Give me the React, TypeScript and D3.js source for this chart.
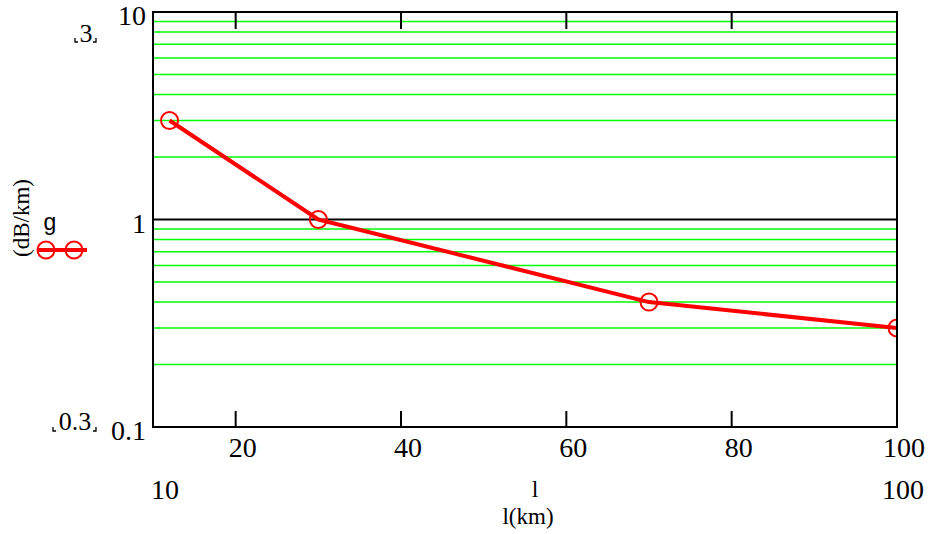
import React from "react";
import * as d3 from "d3";

// Attenuation versus span length
const lengthKm = [12, 30, 70, 100];
const attenuation = [3, 1, 0.4, 0.3];
const xTicks = [20, 40, 60, 80, 100];
const yTickLabels = [10, 1, 0.1];

const W = 930;
const H = 534;
const plot = { left: 153, right: 897, top: 12, bottom: 427 };
const SERIF = "'Liberation Serif', 'Times New Roman', serif";
const SANS = "'Liberation Sans', Arial, sans-serif";
const RED = "#ff0000";
const GREEN = "#00ff00";

export default function App() {
  const x = d3.scaleLinear().domain([10, 100]).range([plot.left, plot.right]);
  const y = d3.scaleLog().domain([0.1, 10]).range([plot.bottom, plot.top]);

  // minor log grid: 2..9 within each decade
  const minor: number[] = [];
  [0.1, 1].forEach((d) => {
    for (let k = 2; k <= 9; k++) minor.push(d * k);
  });

  const points = lengthKm.map((l, i) => [l, attenuation[i]] as [number, number]);
  const line = d3
    .line<[number, number]>()
    .x((d) => x(d[0]))
    .y((d) => y(d[1]));

  const placeholder = (x0: number, x1: number, yb: number) => (
    <g stroke="#000" strokeWidth={1.3} fill="none">
      <path d={`M${x0},${yb - 4}V${yb}H${x0 + 3}`} />
      <path d={`M${x1},${yb - 4}V${yb}H${x1 - 3}`} />
    </g>
  );

  return (
    <svg
      width={W}
      height={H}
      style={{ position: "absolute", left: 0, top: 0, background: "#fff" }}
      fontFamily={SERIF}
    >
      <defs>
        <clipPath id="plotClip">
          <rect
            x={plot.left}
            y={plot.top}
            width={plot.right - plot.left}
            height={plot.bottom - plot.top}
          />
        </clipPath>
      </defs>

      {/* minor grid */}
      {minor.map((v) => (
        <line
          key={v}
          x1={plot.left}
          x2={plot.right}
          y1={y(v)}
          y2={y(v)}
          stroke={GREEN}
          strokeWidth={1.5}
        />
      ))}
      {/* major grid at 1 */}
      <line x1={plot.left} x2={plot.right} y1={y(1)} y2={y(1)} stroke="#000" strokeWidth={2} />

      {/* data */}
      <g clipPath="url(#plotClip)">
        <path d={line(points) || ""} fill="none" stroke={RED} strokeWidth={4} strokeLinejoin="round" />
        {points.map((p, i) => (
          <circle key={i} cx={x(p[0])} cy={y(p[1])} r={8.5} fill="none" stroke={RED} strokeWidth={2} />
        ))}
      </g>

      {/* frame */}
      <rect
        x={plot.left}
        y={plot.top}
        width={plot.right - plot.left}
        height={plot.bottom - plot.top}
        fill="none"
        stroke="#000"
        strokeWidth={2}
      />
      {xTicks.slice(0, -1).map((t) => (
        <g key={t} stroke="#000" strokeWidth={2}>
          <line x1={x(t)} x2={x(t)} y1={plot.top} y2={plot.top + 17} />
          <line x1={x(t)} x2={x(t)} y1={plot.bottom} y2={plot.bottom - 16} />
        </g>
      ))}

      {/* x tick labels */}
      {xTicks.map((t) => (
        <text key={t} x={x(t) + 7} y={plot.bottom + 30} fontSize={28} textAnchor="middle">
          {t}
        </text>
      ))}
      <text x={165} y={499} fontSize={28} textAnchor="middle">10</text>
      <text x={903} y={499} fontSize={28} textAnchor="middle">100</text>
      <text x={535} y={497} fontSize={24} textAnchor="middle">l</text>
      <text x={528} y={524} fontSize={23} textAnchor="middle">l(km)</text>

      {/* y tick labels */}
      {yTickLabels.map((t) => (
        <text key={t} x={146} y={y(t) + 13} fontSize={28} textAnchor="end">
          {t}
        </text>
      ))}

      {/* axis limit placeholders */}
      <text x={86} y={42} fontSize={26} textAnchor="middle">3</text>
      {placeholder(75, 96, 42)}
      <text x={75} y={430} fontSize={26} textAnchor="middle">0.3</text>
      {placeholder(53, 96, 431)}

      {/* y label and legend */}
      <text
        transform="translate(29,218) rotate(-90)"
        fontSize={23}
        textAnchor="middle"
      >
        (dB/km)
      </text>
      <text x={50} y={230} fontSize={23} fontFamily={SANS} textAnchor="middle">g</text>
      <line x1={37} x2={87} y1={250} y2={250} stroke={RED} strokeWidth={4} />
      <circle cx={46} cy={250} r={8.5} fill="none" stroke={RED} strokeWidth={2} />
      <circle cx={74} cy={250} r={8.5} fill="none" stroke={RED} strokeWidth={2} />
    </svg>
  );
}
